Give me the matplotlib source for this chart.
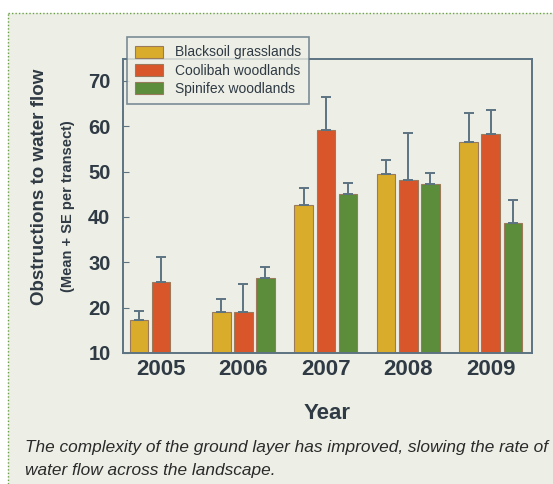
import numpy as np
import matplotlib
matplotlib.use("Agg")
import matplotlib.pyplot as plt
from matplotlib.patches import Rectangle
from matplotlib.lines import Line2D

plt.rcParams["font.family"] = ["Liberation Sans", "DejaVu Sans"]

years = ["2005", "2006", "2007", "2008", "2009"]
series = ["Blacksoil grasslands", "Coolibah woodlands", "Spinifex woodlands"]
colors = ["#d9ac2c", "#d9562b", "#5b8d3a"]

# mean and SE (nan = no bar)
blacksoil = [17.3, 19.0, 42.6, 49.4, 56.5]
blacksoil_se = [1.9, 2.9, 3.7, 3.1, 6.4]
coolibah = [25.6, 19.0, 59.1, 48.1, 58.2]
coolibah_se = [5.5, 6.2, 7.3, 10.4, 5.3]
spinifex = [np.nan, 26.5, 45.0, 47.2, 38.6]
spinifex_se = [np.nan, 2.4, 2.4, 2.4, 5.1]

caption = ["The complexity of the ground layer has improved, slowing the rate of",
           "water flow across the landscape."]

BG = "#edefe6"
FRAME = "#5d7382"
TXT = "#2f3a44"

fig = plt.figure(figsize=(5.53, 4.84), dpi=100)
fig.patch.set_facecolor("white")
W, H = 553, 484

# panel background + dotted green border
fig.patches.append(Rectangle((8 / W, 0), 1 - 8 / W, 1 - 13 / H, transform=fig.transFigure,
                             facecolor=BG, edgecolor="none", zorder=-2))
fig.lines.append(Line2D([8 / W, 1], [1 - 13 / H, 1 - 13 / H], transform=fig.transFigure,
                        color="#6aa048", lw=1, ls=(0, (1, 1.5))))
fig.lines.append(Line2D([8 / W, 8 / W], [0, 1 - 13 / H], transform=fig.transFigure,
                        color="#6aa048", lw=1, ls=(0, (1, 1.5))))

ax = fig.add_axes([123 / W, 1 - 353 / H, (532 - 123) / W, (353 - 59) / H])
ax.set_facecolor(BG)

x = np.arange(len(years))
w, step = 0.225, 0.268
data = [(blacksoil, blacksoil_se), (coolibah, coolibah_se), (spinifex, spinifex_se)]
for i, ((m, se), c, name) in enumerate(zip(data, colors, series)):
    m = np.array(m); se = np.array(se)
    xs = x + (i - 1) * step
    ax.bar(xs, m - 10, w, bottom=10, color=c, edgecolor="#9a7a5a", lw=0.8,
           label=name, zorder=2)
    ax.errorbar(xs, m, yerr=[np.zeros_like(se), se], fmt="none", ecolor=FRAME,
                elinewidth=1.4, capsize=3.8, capthick=1.4, zorder=3)

ax.set_xlim(-0.46, 4.5)
ax.set_ylim(10, 74.8)
ax.set_yticks([10, 20, 30, 40, 50, 60, 70])
ax.set_xticks(x)
ax.set_xticklabels(years)
for s in ax.spines.values():
    s.set_color(FRAME)
    s.set_linewidth(1.4)
ax.tick_params(axis="y", direction="in", length=4, color=FRAME, labelsize=14.5,
               labelcolor=TXT, pad=9)
ax.tick_params(axis="x", length=0, labelsize=16, labelcolor=TXT, pad=4)
for lab in ax.get_xticklabels() + ax.get_yticklabels():
    lab.set_fontweight("bold")

ax.set_xlabel("Year", fontsize=16, fontweight="bold", color=TXT, labelpad=17)

fig.text(40 / W, 1 - 187 / H, "Obstructions to water flow", rotation=90,
         ha="center", va="center", fontsize=13.5, fontweight="bold", color=TXT)
fig.text(68 / W, 1 - 206 / H, "(Mean + SE per transect)", rotation=90,
         ha="center", va="center", fontsize=10.5, fontweight="bold", color=TXT)

leg = ax.legend(loc="upper left", bbox_to_anchor=(127 / W, 1 - 37 / H),
                bbox_transform=fig.transFigure, prop={"size": 10}, frameon=True,
                fancybox=False, handlelength=2.0, handleheight=0.95,
                labelspacing=0.3, borderpad=0.6, handletextpad=0.85,
                borderaxespad=0)
leg.get_frame().set_edgecolor(FRAME)
leg.get_frame().set_facecolor(BG)
leg.get_frame().set_linewidth(1.2)
for t in leg.get_texts():
    t.set_color(TXT)

# caption: fit first line to the panel width
cap_fs = 12
t1 = fig.text(25 / W, 1 - 452 / H, caption[0], ha="left", va="baseline",
              fontsize=cap_fs, style="italic", color="#2a2a2a")
fig.canvas.draw()
wpx = t1.get_window_extent().width
cap_fs = cap_fs * 523 / wpx
t1.set_fontsize(cap_fs)
fig.text(25 / W, 1 - 475 / H, caption[1], ha="left", va="baseline",
         fontsize=cap_fs, style="italic", color="#2a2a2a")

fig.savefig("out.png", dpi=100, facecolor=fig.get_facecolor())
